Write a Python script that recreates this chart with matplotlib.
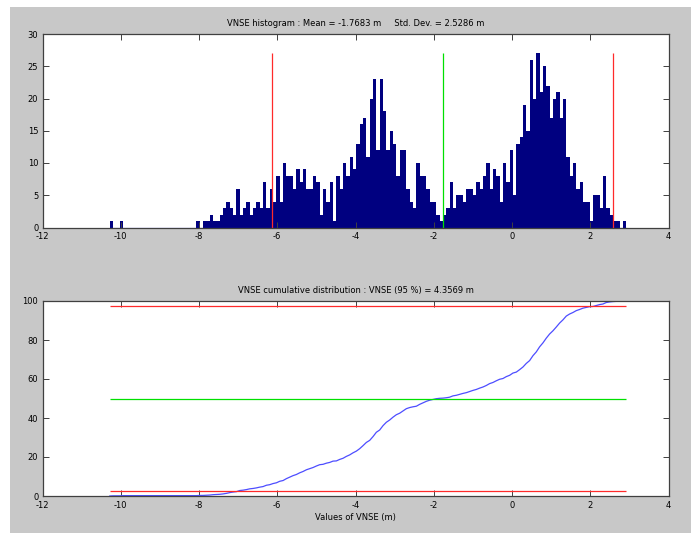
import matplotlib
matplotlib.use('Agg')
import matplotlib.pyplot as plt
from matplotlib.patches import Rectangle
import numpy as np

plt.rcParams['axes.unicode_minus'] = False

# ---- data ----
mean_vnse = -1.7683
std_vnse = 2.5286
vnse95 = 4.3569
x_min, x_max = -10.28, 2.92

counts_left_tail = [1, 0, 0, 1] + [0] * 22 + [1, 0, 1, 1, 2, 1, 1, 2, 3, 4, 3, 2, 6, 2,
                                               3, 4, 2, 3, 4, 3, 7, 3, 6, 4, 8, 4, 10, 8]
counts_left_peak = [8, 6, 9, 7, 9, 6, 6, 8, 7, 2, 6, 4, 7, 1, 8, 6, 10, 8, 11, 9, 13, 16,
                    17, 11, 20, 23, 12, 23, 18, 12]
counts_middle = [15, 13, 8, 12, 12, 6, 4, 3, 10, 8, 8, 6, 4, 4, 2, 1, 2, 3, 7, 3, 5, 5,
                 4, 6, 6, 5, 7, 6, 8, 10]
counts_right_peak = [6, 9, 8, 4, 10, 7, 12, 5, 13, 14, 19, 15, 26, 20, 27, 21, 25, 22, 17,
                     20, 21, 17, 20, 11, 8, 10, 6, 7, 4, 4, 1, 5, 5, 3, 8, 3, 2, 1]
counts_right_tail = [1, 0, 1]

hist_counts = (counts_left_tail + counts_left_peak + counts_middle
               + counts_right_peak + counts_right_tail)

hist_yticks = [0, 5, 10, 15, 20, 25, 30]
cdf_yticks = [0, 20, 40, 60, 80, 100]
xticks = [-12, -10, -8, -6, -4, -2, 0, 2, 4]
cdf_levels = [2.5, 50, 97.5]

title_hist = 'VNSE histogram : Mean = %.4f m     Std. Dev. = %.4f m' % (mean_vnse, std_vnse)
title_cdf = 'VNSE cumulative distribution : VNSE (95 %%) = %.4f m' % vnse95
xlabel_cdf = 'Values of VNSE (m)'

# ---- figure ----
W, H = 691, 533
fig = plt.figure(figsize=(W / 100, H / 100), dpi=100)
fig.patch.set_facecolor('white')
fig.patches.append(Rectangle((10 / W, 0), 1, (H - 7) / H, transform=fig.transFigure,
                             facecolor='#c8c8c8', edgecolor='none', zorder=-10))

FS = 6
frame_col = '#404040'


def style(ax):
    ax.set_facecolor('white')
    for s in ax.spines.values():
        s.set_color(frame_col)
        s.set_linewidth(0.9)
    ax.tick_params(direction='in', top=True, right=True, length=4, width=0.7,
                   color=frame_col, labelsize=FS)
    ax.tick_params(axis='x', pad=3.5)
    ax.tick_params(axis='y', pad=3)


ax1 = fig.add_axes([42.5 / W, (H - 227.5) / H, 626 / W, 193.5 / H])
style(ax1)
counts = np.array(hist_counts)
edges = np.linspace(x_min, x_max, len(counts) + 1)
ax1.bar(edges[:-1], counts, width=np.diff(edges), align='edge', color='#000080',
        linewidth=0)
ax1.plot([x_min, x_max], [0, 0], color='#0000ff', lw=0.8)
top = counts.max()
ax1.vlines([mean_vnse - vnse95, mean_vnse + vnse95], 0, top, color='#ff2a2a', lw=0.9)
ax1.vlines([mean_vnse], 0, top, color='#00e000', lw=0.9)
ax1.set_xlim(-12, 4)
ax1.set_ylim(0, 30)
ax1.set_xticks(xticks)
ax1.set_yticks(hist_yticks)
ax1.set_title(title_hist, fontsize=FS, pad=6)

ax2 = fig.add_axes([42.5 / W, (H - 496) / H, 626 / W, 195 / H])
style(ax2)
cdf = np.concatenate([[0], np.cumsum(counts) / counts.sum() * 100])
ax2.plot(edges, cdf, color='#4d4dff', lw=0.9)
ax2.hlines([cdf_levels[0], cdf_levels[2]], x_min, x_max, color='#ff2a2a', lw=0.9)
ax2.hlines([cdf_levels[1]], x_min, x_max, color='#00e000', lw=0.9)
ax2.set_xlim(-12, 4)
ax2.set_ylim(0, 100)
ax2.set_xticks(xticks)
ax2.set_yticks(cdf_yticks)
ax2.set_title(title_cdf, fontsize=FS, pad=6)
ax2.set_xlabel(xlabel_cdf, fontsize=FS, labelpad=2)

fig.savefig('out.png', dpi=100, facecolor=fig.get_facecolor())
